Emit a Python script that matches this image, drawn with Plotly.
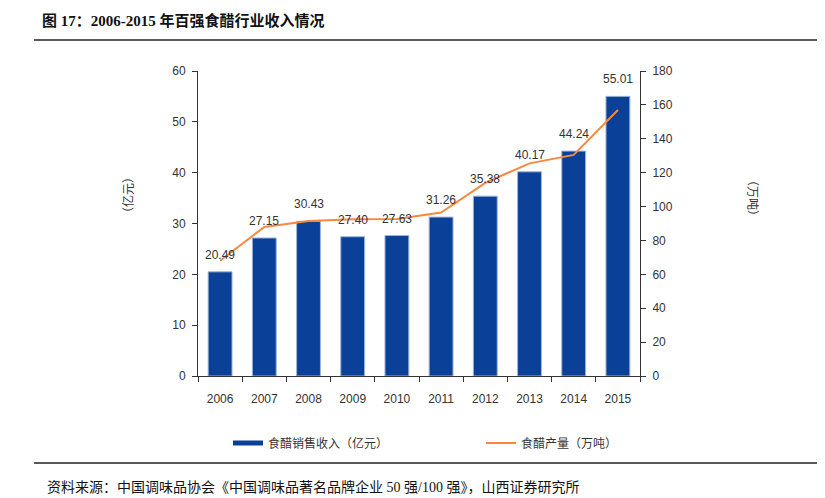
import plotly.graph_objects as go

years = ["2006", "2007", "2008", "2009", "2010", "2011", "2012", "2013", "2014", "2015"]
revenue = [20.49, 27.15, 30.43, 27.40, 27.63, 31.26, 35.38, 40.17, 44.24, 55.01]
output = [68, 88, 91.5, 92.5, 92.7, 96.5, 114, 125.5, 130.5, 157]
rev_labels = ["20.49", "27.15", "30.43", "27.40", "27.63", "31.26", "35.38", "40.17", "44.24", "55.01"]

BLUE = "#0B4099"
ORANGE = "#F7883E"
AX = "#333333"
TXT = "#333333"
FONT = "Liberation Sans, Arial, Noto Sans CJK SC"

# page body has an 8px margin; the plot area is placed in screen pixels 198..640 x 71..376
def px(X):
    return (X - 198) / 442

def py(Y):
    return (376 - Y) / 305

fig = go.Figure()
fig.add_trace(go.Bar(
    x=years, y=revenue, marker=dict(color=BLUE, line=dict(color="#9DB3D8", width=1)),
    width=0.54, showlegend=False, yaxis="y", hoverinfo="skip"))
fig.add_trace(go.Scatter(
    x=years, y=output, mode="lines", line=dict(color=ORANGE, width=2),
    yaxis="y2", showlegend=False))
# legend proxies
fig.add_trace(go.Scatter(x=[years[0]], y=[None], mode="lines", line=dict(color=BLUE, width=5),
                         name="食醋销售收入（亿元）", legend="legend"))
fig.add_trace(go.Scatter(x=[years[0]], y=[None], mode="lines", line=dict(color=ORANGE, width=2),
                         name="食醋产量（万吨）", yaxis="y2", legend="legend2"))

for i, (v, t) in enumerate(zip(revenue, rev_labels)):
    fig.add_annotation(x=i, y=v, xref="x", yref="y", text=t, showarrow=False,
                       yanchor="bottom", yshift=8,
                       font=dict(family=FONT, size=12, color=TXT))

leg_common = dict(orientation="h", xanchor="left", yanchor="middle", y=py(443),
                  font=dict(size=12, color=TXT), bgcolor="rgba(0,0,0,0)")

fig.update_layout(
    width=817, height=490,
    margin=dict(l=190, r=185, t=63, b=122, autoexpand=False),
    paper_bgcolor="white", plot_bgcolor="white",
    font=dict(family=FONT, size=12, color=TXT),
    xaxis=dict(type="category", categoryorder="array", categoryarray=years,
               range=[-0.5, 9.5], autorange=False,
               showline=True, linecolor=AX, linewidth=1,
               ticks="outside", tickson="boundaries", ticklen=5, tickcolor=AX,
               showgrid=False, tickfont=dict(size=12, color=TXT), ticklabelstandoff=12),
    yaxis=dict(range=[0, 60], dtick=10, showline=True, linecolor=AX, linewidth=1,
               ticks="outside", ticklen=5, tickcolor=AX, showgrid=False, zeroline=False,
               tickfont=dict(size=12, color=TXT), ticklabelstandoff=4),
    yaxis2=dict(range=[0, 180], dtick=20, overlaying="y", side="right", showline=True,
                linecolor=AX, linewidth=1, ticks="outside", ticklen=5, tickcolor=AX,
                showgrid=False, zeroline=False, tickfont=dict(size=12, color=TXT),
                ticklabelstandoff=4),
    legend=dict(x=px(228), **leg_common),
    legend2=dict(x=px(481), **leg_common),
    showlegend=True,
)

# axis titles
fig.add_annotation(x=px(128), y=py(195), xref="paper", yref="paper", text="（亿元）",
                   xanchor="center", yanchor="middle",
                   showarrow=False, textangle=-90, font=dict(size=12, color=TXT))
fig.add_annotation(x=px(752), y=py(198), xref="paper", yref="paper",
                   xanchor="center", yanchor="middle",
                   text="（万吨）", showarrow=False, textangle=90, font=dict(size=12, color=TXT))

# title, source and rules
fig.add_annotation(x=px(40), y=py(20), xref="paper", yref="paper",
                   xanchor="left", yanchor="middle", showarrow=False,
                   text="<b>图 17：2006-2015 年百强食醋行业收入情况</b>",
                   font=dict(family="Liberation Serif, Noto Sans CJK SC", size=15, color="#111111"))
fig.add_annotation(x=px(45), y=py(487), xref="paper", yref="paper",
                   xanchor="left", yanchor="middle", showarrow=False,
                   text="资料来源：中国调味品协会《中国调味品著名品牌企业 50 强/100 强》，山西证券研究所",
                   font=dict(family="Liberation Serif, Noto Sans CJK SC", size=14, color="#111111"))
for yy in (40, 463):
    fig.add_shape(type="line", xref="paper", yref="paper",
                  x0=px(34), x1=px(825), y0=py(yy), y1=py(yy),
                  line=dict(color="#222222", width=1.5))

fig.write_html("out.html")
